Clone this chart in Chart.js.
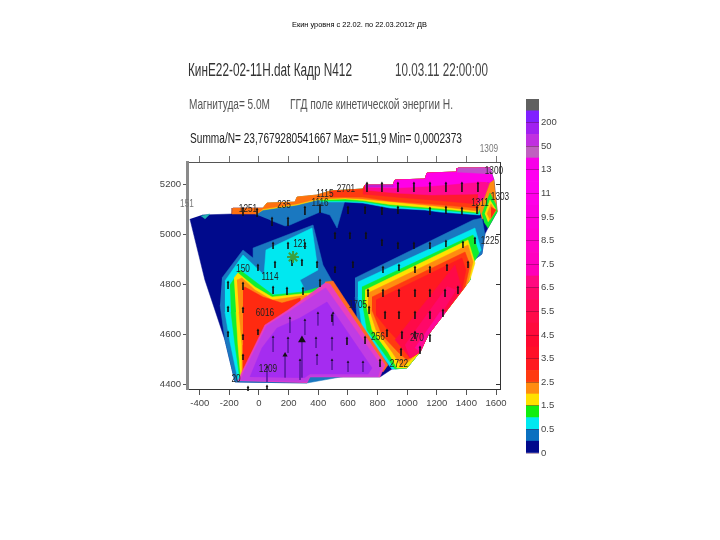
<!DOCTYPE html>
<html>
<head>
<meta charset="utf-8">
<title>Кин</title>
<script src="https://cdn.jsdelivr.net/npm/chart.js@4"></script>
<style>
    html, body { margin: 0; padding: 0; background: #fff; width: 720px; height: 540px; overflow: hidden; }
    canvas { position: absolute; }
    #mapChart { left: 0; top: 0; }
    #barChart { left: 500px; top: 80px; }
    .head { position: absolute; white-space: nowrap; transform-origin: left center; font-family: "Liberation Sans", Arial, sans-serif; line-height: 1; }
</style>
</head>
<body>
<canvas id="mapChart" width="720" height="540"></canvas>
<canvas id="barChart" width="100" height="400"></canvas>
<script>
// axis ticks
const xTickValues = [-400, -200, 0, 200, 400, 600, 800, 1000, 1200, 1400, 1600];
const yTickValues = [4400, 4600, 4800, 5000, 5200];

// colour bar, bottom to top
const barLabels = ['0', '0.5', '1.5', '2.5', '3.5', '4.5', '5.5', '6.5', '7.5', '8.5', '9.5', '11', '13', '50', '200'];
const barColors = ['#000a8c', '#0a70c0', '#00e8f0', '#10ee10', '#ffe000', '#ff8c10', '#ff3a10', '#ff1a20', '#ff1028',
    '#ff0830', '#ff0a3c', '#ff0a48', '#ff0858', '#ff0868', '#ff0a80', '#ff00b8', '#ff00c0', '#ff00c8', '#ff00d0',
    '#ff00d8', '#fc00e0', '#ff00e8', '#ff00f0', '#ff00f0', '#f800e8', '#c060c0', '#c030e0', '#a020f0', '#8020ff', '#606060'];

// site names on the map
const siteNames = ['1309', '1300', '1303', '1311', '1225', '2701', '1115', '1116', '1251', '235', '151', '121', '150', '1114', '1209', '2722', '1705', '6016', '20', '256', '270'];
const siteX = [1552, 1586, 1627, 1492, 1559, 587, 445, 412, -74, 169, -486, 277, -108, 74, 61, 945, 668, 40, -155, 803, 1066];
const siteY = [5340, 5252, 5148, 5124, 4972, 5180, 5160, 5124, 5100, 5116, 5120, 4960, 4860, 4828, 4460, 4480, 4716, 4684, 4420, 4588, 4584];

// contour regions, [x, y] in map units
const outline = [[-466, 5060], [-365, 4816], [-230, 4576], [-162, 4408], [324, 4404], [344, 4428], [817, 4428], [898, 4460], [999, 4464], [1087, 4528], [1141, 4596], [1424, 4816], [1424, 4884], [1505, 4920], [1525, 5000], [1546, 5024], [1607, 5088], [1607, 5096], [1586, 5216], [1559, 5264], [1343, 5264], [1337, 5248], [1134, 5244], [1121, 5220], [918, 5216], [904, 5196], [716, 5196], [702, 5180], [479, 5172], [392, 5156], [257, 5148], [243, 5128], [54, 5124], [27, 5104], [-176, 5104], [-182, 5080], [-385, 5076]];
const topEdge = [[-182, 5080], [-176, 5104], [27, 5104], [54, 5124], [243, 5128], [257, 5148], [392, 5156], [479, 5172], [702, 5180], [716, 5196], [904, 5196], [918, 5216], [1121, 5220], [1134, 5244], [1337, 5248], [1343, 5264], [1559, 5264]];

const blueTop = [[-27, 5080], [27, 5096], [412, 5140], [581, 5136], [527, 5024], [479, 5076], [412, 5088], [209, 5036], [176, 5032], [74, 5056]];
const tealTop = [[-392, 5072], [-331, 5080], [-365, 5060]];

const blueLeft = [[-250, 4824], [-108, 4936], [-40, 4904], [-40, 4944], [365, 5036], [432, 4876], [493, 4812], [851, 4460], [324, 4404], [-162, 4408], [-230, 4576], [-263, 4716]];
const cyanLeft = [[-230, 4812], [-108, 4916], [34, 4836], [47, 4936], [358, 5024], [398, 4856], [277, 4816], [304, 4784], [277, 4456], [-142, 4416], [-196, 4568], [-230, 4688]];
const greenLeft = [[-196, 4796], [-128, 4856], [-40, 4816], [95, 4756], [297, 4768], [412, 4788], [277, 4456], [-128, 4416], [-162, 4556], [-189, 4688]];
const yellowLeft = [[-169, 4824], [-142, 4844], [-27, 4788], [88, 4748], [344, 4764], [412, 4776], [277, 4456], [-122, 4416], [-142, 4556], [-155, 4688]];
const orangeLeft = [[-149, 4816], [-115, 4824], [-27, 4776], [88, 4736], [324, 4756], [277, 4456], [-115, 4416], [-115, 4556], [-135, 4688]];
const redLeft = [[-108, 4784], [-95, 4788], [27, 4748], [155, 4724], [277, 4744], [277, 4456], [-108, 4424], [-108, 4556]];

const blueRight = [[648, 4824], [1445, 5056], [1505, 5064], [1525, 5000], [1505, 4920], [1424, 4884], [1424, 4816], [1141, 4596], [1087, 4528], [999, 4464], [898, 4460], [783, 4536], [668, 4636], [648, 4748]];
const cyanRight = [[668, 4808], [1458, 5024], [1500, 4936], [1438, 4888], [1424, 4816], [1141, 4596], [1087, 4528], [999, 4464], [898, 4460], [803, 4536], [695, 4624], [668, 4748]];
const greenRight = [[695, 4788], [1445, 4996], [1485, 4924], [1424, 4856], [1424, 4816], [1141, 4596], [1087, 4528], [999, 4464], [918, 4460], [837, 4528], [729, 4616], [695, 4736]];
const yellowRight = [[716, 4776], [1411, 4976], [1458, 4884], [1424, 4816], [1141, 4596], [1087, 4528], [999, 4464], [932, 4464], [871, 4528], [763, 4616], [716, 4736]];
const orangeRight = [[736, 4764], [1411, 4956], [1445, 4888], [1411, 4804], [1141, 4596], [1087, 4528], [965, 4468], [898, 4528], [790, 4616], [736, 4716]];
const scarletRight = [[763, 4748], [1391, 4928], [1424, 4876], [1391, 4788], [1141, 4596], [1087, 4528], [999, 4496], [938, 4528], [830, 4596], [763, 4696]];
const redRight = [[790, 4736], [1370, 4904], [1397, 4856], [1370, 4776], [1141, 4596], [1087, 4528], [1019, 4504], [965, 4556], [871, 4616], [790, 4676]];
const crimsonRight = [[918, 4576], [1323, 4876], [1370, 4776], [1141, 4596], [1087, 4528], [1019, 4504]];
const roseRight = [[986, 4556], [1270, 4790], [1330, 4776], [1141, 4596], [1087, 4528], [1019, 4504]];
const pinkRight = [[1053, 4544], [1222, 4688], [1262, 4688], [1141, 4596], [1087, 4528]];

// lower edges of the bands along the top of the map
const cyanTopLine = [[412, 5128], [581, 5128], [702, 5124], [884, 5104], [1121, 5096], [1222, 5088], [1492, 5076]];
const greenTopLine = [[412, 5132], [581, 5132], [702, 5130], [884, 5112], [1222, 5096], [1485, 5082]];
const yellowTopLine = [[-13, 5082], [27, 5096], [257, 5116], [392, 5136], [581, 5140], [702, 5134], [884, 5118], [1222, 5102], [1478, 5086]];
const orangeTopLine = [[-182, 5080], [-13, 5080], [27, 5100], [257, 5120], [392, 5140], [581, 5144], [702, 5140], [884, 5130], [1222, 5110], [1478, 5092]];
const scarletTopLine = [[479, 5148], [702, 5148], [884, 5132], [1168, 5120], [1478, 5104]];
const redTopLine = [[702, 5160], [918, 5148], [1168, 5136], [1478, 5120]];
const pinkTopLine = [[716, 5176], [918, 5164], [1168, 5156], [1478, 5160]];
const magentaTopLine = [[716, 5188], [918, 5184], [1168, 5192], [1478, 5208]];
const plumStrip = [[1343, 5264], [1559, 5264], [1575, 5240], [1337, 5248]];
const plumSmall = [[716, 5196], [904, 5196], [904, 5188], [716, 5188]];

// top right corner of the map
const magentaCorner = [[1478, 5208], [1478, 5264], [1559, 5264], [1586, 5216], [1559, 5204]];
const pinkCorner = [[1478, 5208], [1559, 5204], [1520, 5140], [1478, 5120]];
const orangeStrip = [[1478, 5120], [1520, 5140], [1559, 5204], [1586, 5216], [1607, 5096], [1607, 5088], [1505, 5060]];
const greenWedge = [[1505, 5080], [1559, 5164], [1600, 5116], [1607, 5088], [1546, 5024], [1519, 5048]];
const yellowWedge = [[1525, 5080], [1559, 5136], [1593, 5104], [1593, 5088], [1546, 5048]];
const orangeWedge = [[1539, 5080], [1566, 5120], [1593, 5096], [1559, 5056]];
const redWedge = [[1566, 5108], [1600, 5096], [1566, 5064]];

const purpleEdge = [[446, 4808], [500, 4812], [871, 4476], [837, 4448], [446, 4736]];
const purpleOuter = [[-142, 4412], [-115, 4448], [40, 4636], [196, 4696], [446, 4804], [479, 4800], [851, 4476], [817, 4428], [344, 4428], [324, 4404]];
const purpleMiddle = [[-125, 4414], [-100, 4452], [50, 4632], [210, 4692], [450, 4785], [826, 4472], [804, 4430], [344, 4430], [320, 4408]];
const purpleInner = [[-61, 4428], [20, 4544], [122, 4624], [277, 4664], [459, 4728], [763, 4464], [736, 4440], [344, 4440], [304, 4424]];

// arrows: head x, head y, tail length
const darkArrows = [
    [729, 5204, 36], [830, 5204, 36], [938, 5204, 36], [1046, 5204, 36], [1154, 5204, 36], [1262, 5204, 36], [1370, 5204, 36], [1478, 5204, 36],
    [601, 5108, 28], [716, 5108, 28], [830, 5104, 28], [938, 5108, 28], [1154, 5104, 28], [1262, 5108, 28], [1370, 5104, 28], [1472, 5108, 28],
    [-108, 5104, 32], [-13, 5100, 32], [88, 5064, 32], [196, 5064, 32], [310, 5108, 32], [412, 5116, 32],
    [95, 4964, 24], [196, 4964, 24], [310, 4964, 24],
    [513, 5004, 24], [614, 5004, 24], [722, 5004, 24], [830, 4976, 24], [938, 4964, 24], [1046, 4964, 24], [1154, 4964, 24], [1262, 4972, 24], [1377, 4968, 24], [1458, 4984, 24],
    [-7, 4876, 24], [108, 4888, 24], [223, 4896, 24], [290, 4896, 24], [392, 4888, 24], [513, 4868, 24], [634, 4888, 24], [837, 4868, 24], [945, 4876, 24], [1053, 4868, 24], [1154, 4868, 24], [1269, 4876, 24], [1411, 4888, 24],
    [-209, 4808, 28], [-108, 4804, 28], [95, 4788, 28], [189, 4784, 28], [297, 4784, 28], [412, 4816, 28],
    [736, 4776, 28], [837, 4776, 28], [945, 4776, 28], [1053, 4776, 28], [1154, 4776, 28], [1256, 4776, 28], [1343, 4788, 28],
    [-209, 4708, 20], [-108, 4704, 20], [-209, 4608, 20], [-108, 4596, 20], [-108, 4516, 20], [-7, 4616, 20],
    [851, 4688, 28], [945, 4688, 28], [1053, 4688, 28], [1154, 4688, 28], [1242, 4696, 28], [743, 4708, 28],
    [864, 4616, 28], [965, 4608, 28], [1053, 4608, 28], [1154, 4596, 28], [959, 4540, 28], [1087, 4548, 28], [817, 4496, 28], [716, 4588, 28], [594, 4584, 28], [493, 4676, 28],
    [-74, 4388, 16], [54, 4392, 16]
];
const purpleArrows = [
    [209, 4664, 60], [310, 4656, 60], [398, 4684, 50], [500, 4684, 50], [95, 4588, 60], [196, 4584, 60], [290, 4576, 150], [385, 4584, 40], [493, 4584, 50],
    [176, 4516, 90], [277, 4496, 80], [392, 4516, 40], [493, 4496, 40], [54, 4468, 60], [601, 4488, 40], [702, 4488, 40]
];
const epicentre = [[230, 4908]];

function bandBelowTop(line) {
    // lower line plus the part of the top edge above it
    const startX = line[0][0];
    const upper = topEdge.filter(p => p[0] >= startX).reverse();
    return line.concat(upper);
}

function polygonDataset(points, color) {
    return {
        data: points.map(p => ({ x: p[0], y: p[1] })),
        showLine: true,
        fill: 'shape',
        tension: 0,
        backgroundColor: color,
        borderColor: color,
        borderWidth: 0.5,
        pointRadius: 0
    };
}

function arrowDataset(arrows, color) {
    const data = [];
    arrows.forEach(a => {
        data.push({ x: a[0], y: a[1] });
        data.push({ x: a[0], y: a[1] - a[2] });
        data.push({ x: NaN, y: NaN });
    });
    return {
        data: data,
        showLine: true,
        spanGaps: false,
        borderColor: color,
        borderWidth: 0.8,
        pointRadius: 0,
        clip: false
    };
}

function headDataset(arrows) {
    return {
        data: arrows.map(a => ({ x: a[0], y: a[1] })),
        pointStyle: 'triangle',
        pointRadius: arrows.map(a => (a[2] >= 150 ? 4.5 : a[2] >= 90 ? 3 : 1.6)),
        backgroundColor: '#111',
        borderColor: '#111',
        borderWidth: 0,
        clip: false
    };
}

const regions = [
    [outline, '#000a8c'],
    [tealTop, '#20b0b0'], [blueTop, '#1a78c0'],
    [blueLeft, '#1a78c0'], [cyanLeft, '#00e8f0'], [greenLeft, '#10ee30'], [yellowLeft, '#ffe000'], [orangeLeft, '#ff8c10'], [redLeft, '#ff2a10'],
    [blueRight, '#1a78c0'], [cyanRight, '#00e8f0'], [greenRight, '#10ee30'], [yellowRight, '#ffe000'], [orangeRight, '#ff8c10'], [scarletRight, '#ff3a10'], [redRight, '#ff1a20'], [crimsonRight, '#ff0a48'], [roseRight, '#ff0868'], [pinkRight, '#ff0a98'],
    [bandBelowTop(cyanTopLine), '#00e8f0'], [bandBelowTop(greenTopLine), '#10ee30'], [bandBelowTop(yellowTopLine), '#ffe000'], [bandBelowTop(orangeTopLine), '#ff7010'],
    [bandBelowTop(scarletTopLine), '#ff3a10'], [bandBelowTop(redTopLine), '#ff1a30'], [bandBelowTop(pinkTopLine), '#ff0a90'], [bandBelowTop(magentaTopLine), '#ff00e8'],
    [magentaCorner, '#ff00e8'], [pinkCorner, '#ff0a90'], [orangeStrip, '#ff8c10'], [plumStrip, '#c050c8'], [plumSmall, '#c020d0'],
    [greenWedge, '#10ee30'], [yellowWedge, '#ffe000'], [orangeWedge, '#ff8c10'], [redWedge, '#ff2a10'],
    [purpleEdge, '#ff6a20'], [purpleOuter, '#e840c0'], [purpleMiddle, '#c03ce4'], [purpleInner, '#a52cf0']
];

const datasets = regions.map(r => polygonDataset(r[0], r[1]));
datasets.push(arrowDataset(purpleArrows, '#5a1aa0'));
datasets.push(arrowDataset(darkArrows, '#111'));
datasets.push(headDataset(purpleArrows.concat(darkArrows)));
datasets.push({
    data: epicentre.map(p => ({ x: p[0], y: p[1] })),
    pointStyle: 'star',
    pointRadius: 6,
    borderColor: '#3aa040',
    borderWidth: 2,
    backgroundColor: '#3aa040'
});
// later regions paint over earlier ones
datasets.forEach((d, i) => { d.order = datasets.length - i; });

const siteLabelPlugin = {
    id: 'siteLabels',
    afterDraw(chart) {
        const ctx = chart.ctx;
        siteNames.forEach((name, i) => {
            // the names are narrower than the installed font
            ctx.save();
            ctx.translate(chart.scales.x.getPixelForValue(siteX[i]), chart.scales.y.getPixelForValue(siteY[i]));
            ctx.scale(0.75, 1);
            ctx.font = '11px "Liberation Sans", sans-serif';
            ctx.fillStyle = i === 0 || i === 10 ? '#777' : '#222';
            ctx.textAlign = 'center';
            ctx.textBaseline = 'middle';
            ctx.fillText(name, 0, 0);
            ctx.restore();
        });
    }
};

const axisFont = { family: '"Liberation Sans", sans-serif', size: 9.5 };

function setTicks(values) {
    return scale => { scale.ticks = values.map(v => ({ value: v })); };
}

new Chart(document.getElementById('mapChart'), {
    type: 'scatter',
    data: { datasets: datasets },
    options: {
        responsive: false,
        animation: false,
        events: [],
        layout: { padding: 0 },
        plugins: { legend: { display: false }, tooltip: { enabled: false } },
        scales: {
            x: {
                type: 'linear', position: 'bottom', min: -486, max: 1627,
                afterBuildTicks: setTicks(xTickValues),
                afterFit: s => { s.height = 151; },
                grid: { drawOnChartArea: false, tickLength: 6, color: '#555' },
                border: { color: '#333', width: 1 },
                ticks: { color: '#444', font: axisFont, padding: 3, maxRotation: 0, autoSkip: false, callback: v => String(v) }
            },
            x2: {
                type: 'linear', position: 'top', min: -486, max: 1627,
                afterBuildTicks: setTicks(xTickValues),
                afterFit: s => { s.height = 162; },
                grid: { drawOnChartArea: false, tickLength: 6, color: '#777' },
                border: { color: '#555', width: 1 },
                ticks: { display: false }
            },
            y: {
                type: 'linear', position: 'left', min: 4380, max: 5288,
                afterBuildTicks: setTicks(yTickValues),
                afterFit: s => { s.width = 187; },
                grid: { drawOnChartArea: false, tickLength: 4, color: '#555' },
                border: { color: '#8a8a8a', width: 3 },
                ticks: { color: '#444', font: axisFont, padding: 2, callback: v => String(v) }
            },
            y2: {
                type: 'linear', position: 'right', min: 4380, max: 5288,
                afterBuildTicks: setTicks(yTickValues),
                afterFit: s => { s.width = 220; },
                grid: { drawOnChartArea: false, tickLength: -4, color: '#333' },
                border: { color: '#333', width: 1 },
                ticks: { display: false }
            }
        }
    },
    plugins: [siteLabelPlugin]
});

new Chart(document.getElementById('barChart'), {
    type: 'bar',
    data: {
        labels: [''],
        datasets: barColors.map(c => ({ data: [1], backgroundColor: c, barPercentage: 1, categoryPercentage: 1 }))
    },
    options: {
        responsive: false,
        animation: false,
        events: [],
        layout: { padding: { left: 26, top: 19, bottom: 27, right: 0 } },
        plugins: { legend: { display: false }, tooltip: { enabled: false } },
        scales: {
            x: { stacked: true, display: false },
            y: {
                stacked: true, position: 'right', min: 0, max: 30,
                afterBuildTicks: s => { s.ticks = barLabels.map((l, i) => ({ value: i * 2 })); },
                afterFit: s => { s.width = 61; },
                grid: { drawOnChartArea: true, z: 1, drawTicks: false, color: 'rgba(70,0,50,0.35)' },
                border: { display: false },
                ticks: {
                    color: '#444', font: axisFont, padding: 2,
                    callback: (v, i) => barLabels[i]
                }
            }
        }
    }
});

// header text, squeezed to the reference widths
const headerTexts = [
    'Екин уровня с 22.02.  по 22.03.2012г ДВ',
    'КинЕ22-02-11H.dat Кадр N412',
    '10.03.11 22:00:00',
    'Магнитуда= 5.0M',
    'ГГД поле кинетической энергии Н.',
    'Summa/N= 23,7679280541667 Max= 511,9 Min= 0,0002373'
];
const headerLeft = [292, 188, 395, 189, 290, 190];
const headerRight = [427, 352, 488, 270, 453, 462];
const headerCenter = [24, 70, 70, 103, 103, 137];
const headerSize = [7, 18, 18, 15, 15, 15];
const headerColor = ['#000', '#333', '#444', '#555', '#555', '#222'];

headerTexts.forEach((text, i) => {
    const el = document.createElement('div');
    el.className = 'head';
    el.textContent = text;
    el.style.fontSize = headerSize[i] + 'px';
    el.style.color = headerColor[i];
    el.style.left = headerLeft[i] + 'px';
    el.style.top = (headerCenter[i] - headerSize[i] / 2) + 'px';
    document.body.appendChild(el);
    const sx = (headerRight[i] - headerLeft[i]) / el.getBoundingClientRect().width;
    el.style.transform = 'scaleX(' + sx + ')';
});
</script>
</body>
</html>
